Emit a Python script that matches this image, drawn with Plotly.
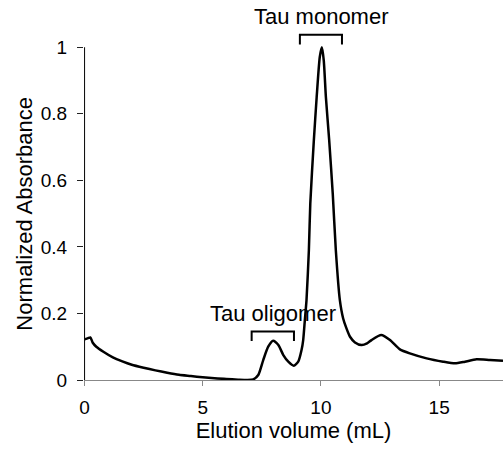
import plotly.graph_objects as go

# Elution profile
volume_ml = [0.0, 0.15, 0.25, 0.35, 0.5, 0.8, 1.2, 1.6, 2.0, 2.5, 3.0, 3.5, 4.0, 4.5,
             5.0, 5.5, 6.0, 6.5, 6.9, 7.14, 7.35, 7.56, 7.77, 7.98, 8.2, 8.41, 8.62,
             8.85, 9.04, 9.18, 9.25, 9.32, 9.39, 9.49, 9.55, 9.70, 9.82, 9.95, 10.04,
             10.12, 10.21, 10.35, 10.50, 10.63, 10.80, 10.94, 11.08, 11.23, 11.44,
             11.72, 11.95, 12.14, 12.55, 12.92, 13.34, 13.76, 14.47, 15.17, 15.67,
             16.09, 16.58, 17.15, 17.7]
absorbance = [0.122, 0.126, 0.128, 0.112, 0.100, 0.085, 0.068, 0.056, 0.046, 0.037,
              0.029, 0.022, 0.016, 0.012, 0.008, 0.005, 0.003, 0.001, 0.0, 0.002,
              0.015, 0.06, 0.10, 0.118, 0.105, 0.075, 0.055, 0.043, 0.055, 0.09,
              0.12, 0.18, 0.24, 0.39, 0.53, 0.72, 0.85, 0.97, 1.0, 0.96, 0.85, 0.72,
              0.56, 0.39, 0.24, 0.185, 0.155, 0.13, 0.113, 0.105, 0.11, 0.12, 0.135,
              0.12, 0.092, 0.08, 0.065, 0.055, 0.05, 0.055, 0.062, 0.06, 0.058]

x_ticks = [0, 5, 10, 15]
y_ticks = [0, 0.2, 0.4, 0.6, 0.8, 1.0]
y_tick_text = ["0", "0.2", "0.4", "0.6", "0.8", "1"]

# Annotated fractions: (label, start, end, bracket top, leg bottom, label x, label y)
fractions = [
    ("Tau oligomer", 7.07, 8.86, 0.146, 0.117, 7.97, 0.20),
    ("Tau monomer", 9.11, 10.89, 1.038, 1.008, 10.04, 1.092),
]

FONT = "Arial, Liberation Sans, sans-serif"

fig = go.Figure()
fig.add_trace(go.Scatter(
    x=volume_ml, y=absorbance, mode="lines",
    line=dict(color="black", width=2.5, shape="spline", smoothing=0.6),
    hoverinfo="skip", showlegend=False,
))

shapes = [dict(type="line", xref="x", yref="y", x0=0, x1=0, y0=-0.016, y1=1,
               line=dict(color="#111111", width=1.2))]
annotations = []
for label, x0, x1, ytop, ybot, lx, ly in fractions:
    shapes.append(dict(type="path", xref="x", yref="y",
                       path=f"M {x0},{ybot} L {x0},{ytop} L {x1},{ytop} L {x1},{ybot}",
                       line=dict(color="black", width=2)))
    annotations.append(dict(text=label, x=lx, y=ly, xref="x", yref="y",
                            showarrow=False, font=dict(family=FONT, size=22, color="black")))

# y-axis title centred on the 0-1 span of the axis
annotations.append(dict(text="Normalized Absorbance", textangle=-90,
                        xref="paper", yref="y", x=0, y=0.5, xanchor="center",
                        yanchor="middle", xshift=-59, showarrow=False,
                        font=dict(family=FONT, size=22, color="black")))

fig.update_layout(
    width=503, height=450,
    margin=dict(l=84, r=0, t=14, b=70),
    paper_bgcolor="white", plot_bgcolor="white",
    shapes=shapes, annotations=annotations,
    font=dict(family=FONT, color="black"),
    xaxis=dict(range=[-0.02, 17.7], tickvals=x_ticks, ticks="outside", ticklen=5,
               tickcolor="#888888", showline=True, linecolor="#888888", linewidth=1.2,
               showgrid=False, zeroline=False, tickfont=dict(size=19),
               ticklabelstandoff=5,
               title=dict(text="Elution volume (mL)", font=dict(size=22), standoff=3)),
    yaxis=dict(range=[0, 1.1], tickvals=y_ticks, ticktext=y_tick_text, ticks="outside",
               ticklen=6, tickcolor="#222222", showline=False, showgrid=False,
               zeroline=False, tickfont=dict(size=19), ticklabelstandoff=6),
)

fig.write_html("out.html")
